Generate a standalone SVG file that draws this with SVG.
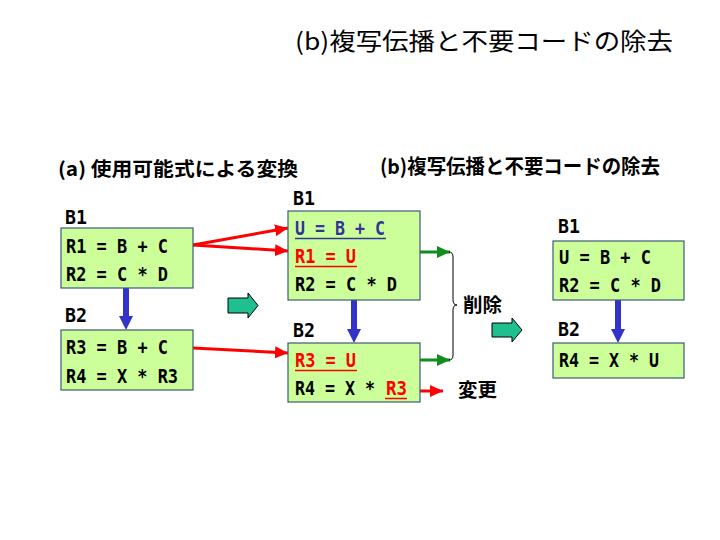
<svg xmlns="http://www.w3.org/2000/svg" width="720" height="540" viewBox="0 0 720 540">
<defs>
<style>
.box{fill:#ccff99;stroke:#3c5a78;stroke-width:1.2}
.code{font-family:"DejaVu Sans Mono","Liberation Mono",monospace;font-weight:bold;font-size:20px;fill:#000}
.jp{font-family:"Noto Sans CJK JP","Noto Sans CJK SC",sans-serif;font-weight:bold;fill:#000}
.red{fill:#ff0000}
.blue{fill:#333399}
.flow{stroke:#3333cc;stroke-width:6;fill:none}
.flowhead{fill:#3333cc}
.ra{stroke:#ff0000;stroke-width:3;fill:none}
.ga{stroke:#118c1e;stroke-width:3;fill:none}
.block{fill:#1fbf8f;stroke:#000;stroke-width:1}
</style>
<marker id="rh" markerUnits="userSpaceOnUse" markerWidth="14" markerHeight="12" refX="13" refY="6" orient="auto"><path d="M0,0 L13,6 L0,12 Z" fill="#ff0000"/></marker>
<marker id="gh" markerUnits="userSpaceOnUse" markerWidth="14" markerHeight="12" refX="13" refY="6" orient="auto"><path d="M0,0 L13,6 L0,12 Z" fill="#118c1e"/></marker>
</defs>
<rect width="720" height="540" fill="#fff"/>
<text x="295" y="50" font-family="'Noto Sans CJK JP','Noto Sans CJK SC',sans-serif" font-size="24" textLength="378" lengthAdjust="spacingAndGlyphs">(b)複写伝播と不要コードの除去</text>
<text class="jp" x="58" y="176" font-size="19" textLength="240" lengthAdjust="spacingAndGlyphs">(a) 使用可能式による変換</text>
<text class="jp" x="380" y="174" font-size="20" textLength="280" lengthAdjust="spacingAndGlyphs">(b)複写伝播と不要コードの除去</text>

<g id="connectors">
<line class="flow" x1="126" y1="288" x2="126" y2="318"/><polygon class="flowhead" points="119,316 133,316 126,330"/>
<line class="flow" x1="354" y1="300" x2="354" y2="331"/><polygon class="flowhead" points="347,329 361,329 354,343"/>
<line class="flow" x1="618" y1="300" x2="618" y2="331"/><polygon class="flowhead" points="611,329 625,329 618,343"/>
<line class="ra" x1="193" y1="245" x2="288" y2="228" marker-end="url(#rh)"/>
<line class="ra" x1="193" y1="245" x2="288" y2="251" marker-end="url(#rh)"/>
<line class="ra" x1="193" y1="348" x2="288" y2="353" marker-end="url(#rh)"/>
<line class="ga" x1="378" y1="252" x2="450" y2="252" marker-end="url(#gh)"/>
<line class="ga" x1="373" y1="360" x2="450" y2="360" marker-end="url(#gh)"/>
<line class="ra" x1="420" y1="391" x2="443" y2="391" marker-end="url(#rh)"/>
<path d="M449,252 Q453,252 453,257 L453,300 Q453,305 457,305 Q453,305 453,310 L453,355 Q453,360 449,360" fill="none" stroke="#000" stroke-width="1"/>
<polygon class="block" points="228,298 248,298 248,293 258,305.5 248,318 248,313 228,313"/>
<polygon class="block" points="492,323 512,323 512,318 522,330 512,342 512,337 492,337"/>
</g>

<g id="left-b1">
<text class="code" x="65" y="224" textLength="22" lengthAdjust="spacingAndGlyphs">B1</text>
<rect class="box" x="61" y="228" width="132" height="60"/>
<text class="code" x="66" y="253" textLength="102" lengthAdjust="spacingAndGlyphs">R1 = B + C</text>
<text class="code" x="66" y="281" textLength="102" lengthAdjust="spacingAndGlyphs">R2 = C * D</text>
</g>
<g id="left-b2">
<text class="code" x="65" y="322" textLength="22" lengthAdjust="spacingAndGlyphs">B2</text>
<rect class="box" x="61" y="330" width="132" height="60"/>
<text class="code" x="66" y="354" textLength="102" lengthAdjust="spacingAndGlyphs">R3 = B + C</text>
<text class="code" x="66" y="383" textLength="112" lengthAdjust="spacingAndGlyphs">R4 = X * R3</text>
</g>

<g id="mid-b1">
<text class="code" x="293" y="205" textLength="22" lengthAdjust="spacingAndGlyphs">B1</text>
<rect class="box" x="288" y="211" width="132" height="89"/>
<text class="code blue" x="295" y="235" textLength="90" lengthAdjust="spacingAndGlyphs">U = B + C</text>
<line x1="295" y1="238.5" x2="386" y2="238.5" stroke="#333399" stroke-width="1.5"/>
<text class="code red" x="295" y="263" textLength="61" lengthAdjust="spacingAndGlyphs">R1 = U</text>
<line x1="295" y1="266.5" x2="357" y2="266.5" stroke="#ff0000" stroke-width="1.5"/>
<text class="code" x="295" y="291" textLength="102" lengthAdjust="spacingAndGlyphs">R2 = C * D</text>
</g>
<g id="mid-b2">
<text class="code" x="293" y="337" textLength="22" lengthAdjust="spacingAndGlyphs">B2</text>
<rect class="box" x="288" y="343" width="132" height="59"/>
<text class="code red" x="295" y="367" textLength="61" lengthAdjust="spacingAndGlyphs">R3 = U</text>
<line x1="295" y1="370.5" x2="357" y2="370.5" stroke="#ff0000" stroke-width="1.5"/>
<text class="code" x="295" y="395" textLength="80" lengthAdjust="spacingAndGlyphs">R4 = X *</text>
<text class="code red" x="386" y="395" textLength="21" lengthAdjust="spacingAndGlyphs">R3</text>
<line x1="385" y1="398.5" x2="407" y2="398.5" stroke="#ff0000" stroke-width="1.5"/>
</g>

<g id="right-b1">
<text class="code" x="558" y="233" textLength="22" lengthAdjust="spacingAndGlyphs">B1</text>
<rect class="box" x="553" y="241" width="131" height="59"/>
<text class="code" x="559" y="264" textLength="92" lengthAdjust="spacingAndGlyphs">U = B + C</text>
<text class="code" x="559" y="292" textLength="102" lengthAdjust="spacingAndGlyphs">R2 = C * D</text>
</g>
<g id="right-b2">
<text class="code" x="558" y="336" textLength="22" lengthAdjust="spacingAndGlyphs">B2</text>
<rect class="box" x="553" y="343" width="131" height="35"/>
<text class="code" x="559" y="367" textLength="100" lengthAdjust="spacingAndGlyphs">R4 = X * U</text>
</g>

<g id="labels">
<text class="jp" x="463" y="312" font-size="19" textLength="39" lengthAdjust="spacingAndGlyphs">削除</text>
<text class="jp" x="458" y="397" font-size="19" textLength="39" lengthAdjust="spacingAndGlyphs">変更</text>
</g>
</svg>
